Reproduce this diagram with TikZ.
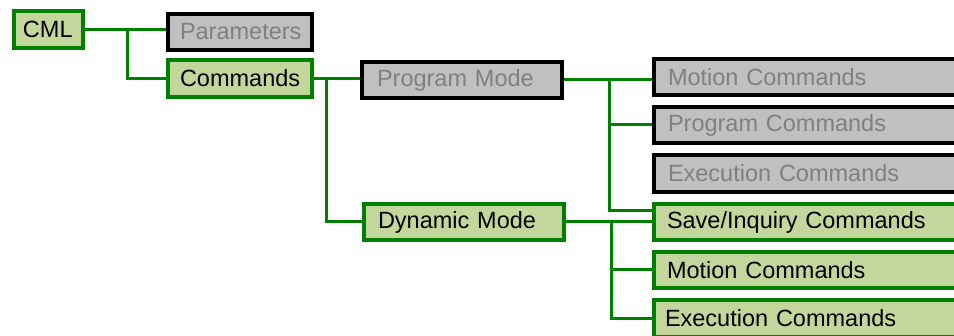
\documentclass[tikz,border=0pt]{standalone}
\usepackage{fontspec}
\setmainfont{Liberation Sans}
\definecolor{lgreen}{RGB}{195,214,155}
\definecolor{dgreen}{RGB}{0,128,0}
\definecolor{gfill}{RGB}{192,192,192}
\definecolor{gtext}{RGB}{128,128,128}
\begin{document}
\begin{tikzpicture}[x=1pt,y=-1pt,
  box/.style={rectangle, line width=4pt, inner ysep=0pt, minimum height=36.5pt,
    anchor=west, align=left, font=\fontsize{23.5}{28}\selectfont},
  gbox/.style={box, draw=dgreen, fill=lgreen, text=black},
  kbox/.style={box, draw=black, fill=gfill, text=gtext},
  conn/.style={draw=dgreen, line width=3pt}]
\clip (0,0) rectangle (954,336);
\fill[white] (0,0) rectangle (954,336);
% nodes
\node[gbox, inner xsep=9pt, text width=51pt] (cml) at (12,29.5) {CML};
\node[kbox, inner xsep=12pt, text width=120pt] (par) at (166,32) {Parameters};
\node[gbox, inner xsep=12pt, text width=120pt] (cmd) at (166,78.5) {Commands};
\node[kbox, inner xsep=15pt, text width=170pt] (prog) at (360,80) {Program Mode};
\node[gbox, inner xsep=14pt, text width=172pt] (dyn) at (362,222) {Dynamic Mode};
\node[kbox, inner xsep=14pt, text width=320pt] (pm) at (652,77) {Motion Commands};
\node[kbox, inner xsep=14pt, text width=320pt] (pp) at (652,125) {Program Commands};
\node[kbox, inner xsep=14pt, text width=320pt] (pe) at (652,173.5) {Execution Commands};
\node[gbox, inner xsep=13pt, text width=320pt] (si) at (652,222) {Save/Inquiry Commands};
\node[gbox, inner xsep=13pt, text width=320pt] (dm) at (652,270) {Motion Commands};
\node[gbox, inner xsep=11pt, text width=320pt] (de) at (652,318.5) {Execution Commands};
% junctions
\coordinate (j1) at (127.5,29.5);
\coordinate (j2) at (326,78.5);
\coordinate (j3) at (609,80);
\coordinate (j4) at (611,222);
% connectors
\draw[conn] (cml.east) -- (par.west |- cml.east);
\draw[conn] (j1) |- (cmd.west);
\draw[conn] (cmd.east) -- (prog.west |- cmd.east);
\draw[conn] (j2) |- (dyn.west);
\draw[conn] (prog.east) -- (pm.west |- prog.east);
\draw[conn] (j3) |- (pp.west);
\draw[conn] (j3) |- ([yshift=11pt]si.west);
\draw[conn] (dyn.east) -- (si.west |- dyn.east);
\draw[conn] (j4) |- (dm.west);
\draw[conn] (j4) |- (de.west);
\end{tikzpicture}
\end{document}
